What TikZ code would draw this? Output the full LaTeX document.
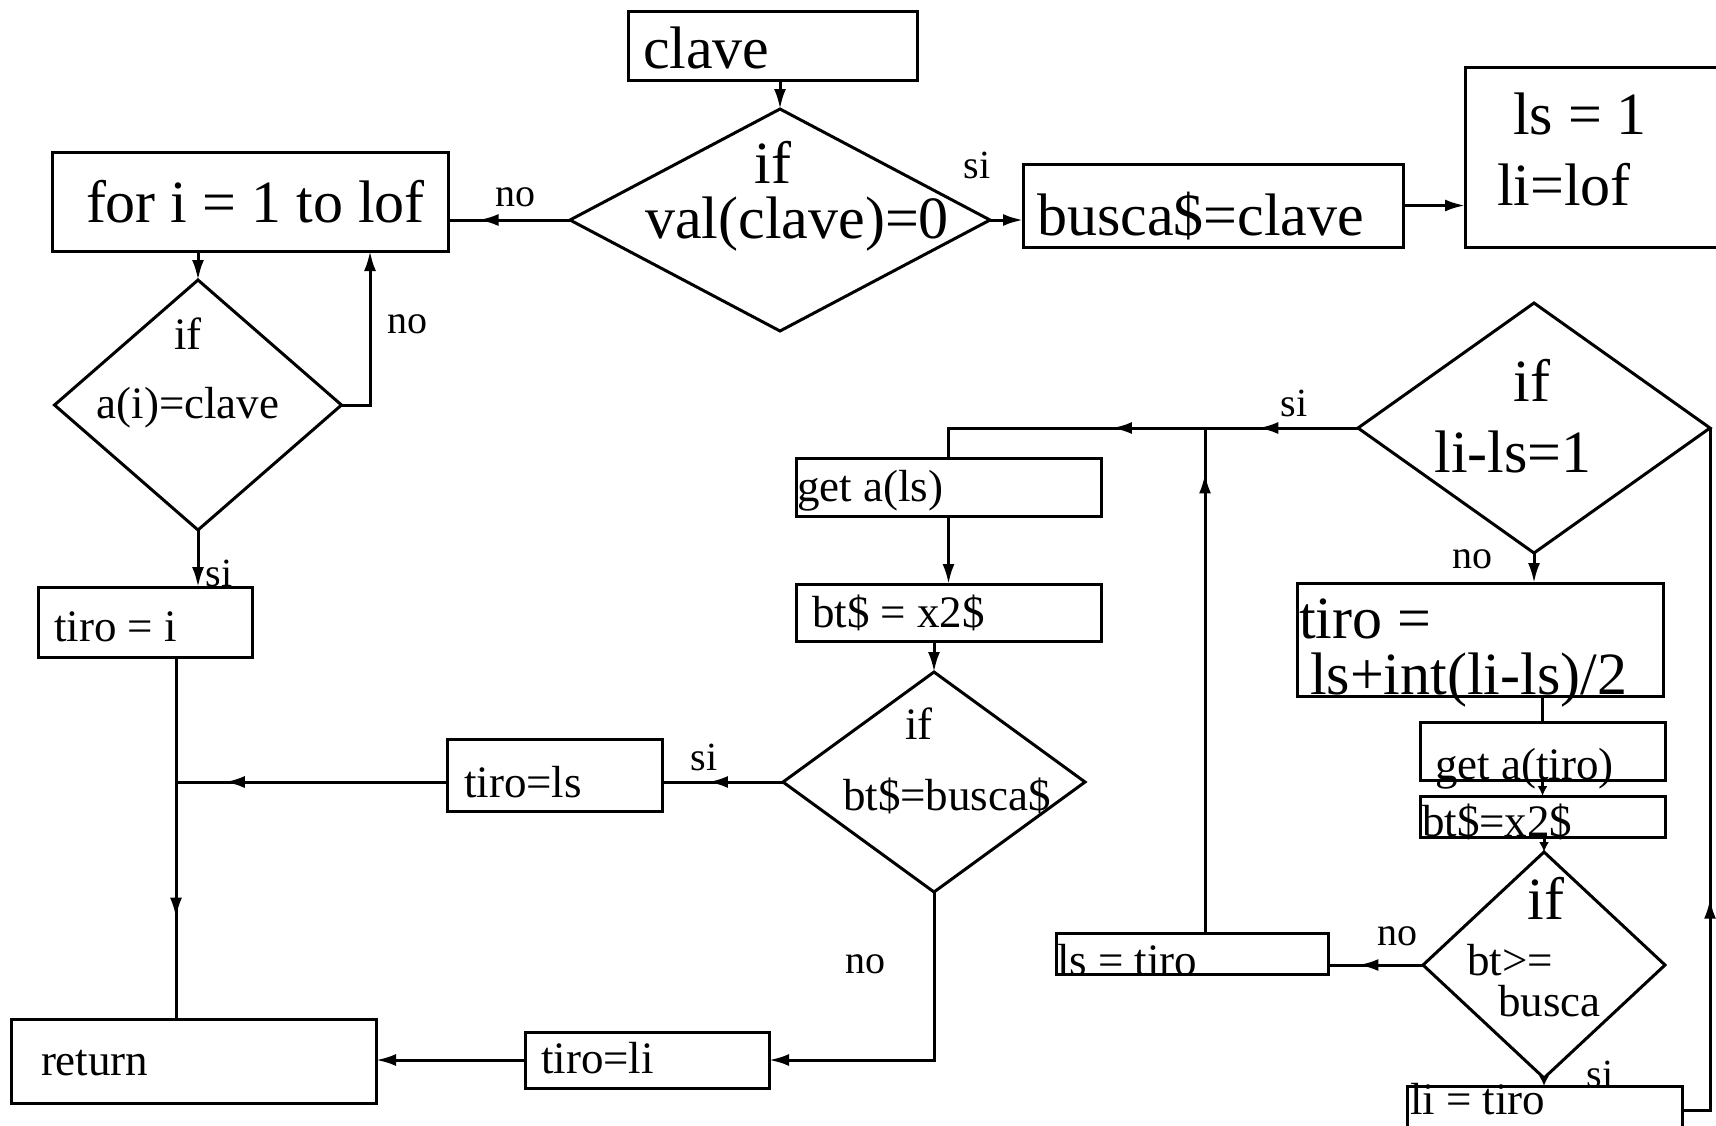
\documentclass[tikz,border=0pt]{standalone}
\usepackage{fontspec}
\setmainfont{Liberation Serif}
\usetikzlibrary{shapes.geometric,arrows.meta,decorations.markings}
\newcommand\FLg{\fontsize{30}{36}\selectfont}
\newcommand\FMd{\fontsize{22.5}{27}\selectfont}
\newcommand\FSm{\fontsize{20}{24}\selectfont}
\tikzset{
  every node/.style={inner sep=0pt, outer sep=0pt},
  bx/.style 2 args={draw, rectangle, line width=1.5pt, minimum width=#1*0.5pt, minimum height=#2*0.5pt, anchor=north west},
  dm/.style 2 args={draw, diamond, line width=1.5pt, minimum width=#1*0.5pt, minimum height=#2*0.5pt},
  ln/.style={line width=1.5pt},
  arr/.style={ln, -{Latex[length=10pt,width=6pt]}},
  arrs/.style={ln, -{Latex[length=5pt,width=5pt]}},
  midarr/.style={ln, postaction={decorate}, decoration={markings, mark=at position #1 with {\arrow{Latex[length=10pt,width=6pt]}}}},
  twoarr/.style 2 args={ln, postaction={decorate}, decoration={markings, mark=at position #1 with {\arrow{Latex[length=10pt,width=6pt]}}, mark=at position #2 with {\arrow{Latex[length=10pt,width=6pt]}}}},
  tL/.style={anchor=base west, font=\FLg},
  tM/.style={anchor=base west, font=\FMd},
  cL/.style={anchor=base, font=\FLg},
  cM/.style={anchor=base, font=\FMd},
  lbl/.style={anchor=center, font=\FSm},
}
\begin{document}
\begin{tikzpicture}[x=0.5pt,y=-0.5pt]
\useasboundingbox (0,0) rectangle (1716,1125);
\clip (0,0) rectangle (1716,1125);
\fill[white] (0,0) rectangle (1716,1125);

% boxes
\node[bx={289}{69}] (clave) at (628,11) {};
\node[bx={396}{99}] (forb) at (52,152) {};
\node[bx={380}{83}] (busca) at (1023,164) {};
\node[bx={270}{180}] (lsli) at (1465,67) {};
\node[bx={214}{70}] (tiroi) at (38,587) {};
\node[bx={305}{58}] (ga1) at (796,458) {};
\node[bx={305}{57}] (bt1) at (796,584) {};
\node[bx={215}{72}] (tirols) at (447,739) {};
\node[bx={272}{41}] (lstiro) at (1056,933) {};
\node[bx={366}{113}] (tiroexp) at (1297,583) {};
\node[bx={245}{58}] (ga2) at (1420,722) {};
\node[bx={245}{41}] (bt2) at (1420,796) {};
\node[bx={365}{84}] (ret) at (11,1019) {};
\node[bx={244}{56}] (tiroli) at (525,1032) {};
\node[bx={275}{48}] (litiro) at (1407,1086) {};

% diamonds
\node[dm={420}{222}] (d1) at (780,220) {};
\node[dm={287}{250}] (d2) at (198,405) {};
\node[dm={302}{220}] (d3) at (934,782) {};
\node[dm={352}{250}] (d4) at (1534,428) {};
\node[dm={242}{226}] (d5) at (1544,965) {};

% helper coordinates
\coordinate (d2r) at (370,405);
\coordinate (vt) at (176,0);
\coordinate (lsup) at ([xshift=6.5pt]lstiro.north);

% connectors
\draw[arr] (d1.north |- clave.south) -- (d1.north);
\draw[midarr=0.75] (d1.west) -- (d1.west -| forb.east);
\draw[arr] (d1.east) -- (d1.east -| busca.west);
\draw[arr] (busca.east) -- (busca.east -| lsli.west);
\draw[arr] (d2.north |- forb.south) -- (d2.north);
\draw[arr] (d2.east) -- (d2r) -- (d2r |- forb.south);
\draw[arr] (d2.south) -- (d2.south |- tiroi.north);
\draw[midarr=0.72] (vt |- tiroi.south) -- (vt |- ret.north);
\draw[midarr=0.62] (d3.west) -- (d3.west -| tirols.east);
\draw[midarr=0.82] (d3.west -| tirols.west) -- (d3.west -| vt);
\draw[arr] (d3.south) |- (tiroli.east);
\draw[arr] (tiroli.west) -- (tiroli.west -| ret.east);
\draw[arr] (ga1.south) -- (ga1.south |- bt1.north);
\draw[arr] (d3.north |- bt1.south) -- (d3.north);
\draw[twoarr={0.227}{0.56}] (d4.west) -- (d4.west -| ga1.north) -- (ga1.north);
\draw[midarr=0.91] (lsup) -- (lsup |- d4.west);
\draw[midarr=0.68] (d5.west) -- (d5.west -| lstiro.east);
\draw[arrs] (d5.south) -- (d5.south |- litiro.north);
\draw[midarr=0.337] (litiro.east) -| (d4.east);
\draw[arr] (d4.south) -- (d4.south |- tiroexp.north);
\draw[ln] (ga2.north |- tiroexp.south) -- (ga2.north);
\draw[arrs] (ga2.south) -- (ga2.south |- bt2.north);
\draw[arrs] (d5.north |- bt2.south) -- (d5.north);

% texts
\node[tL] (tclave) at (643,68) {clave};
\node[tL] (tfor) at (86,222) {for i = 1 to lof};
\node[cL] (td1a) at (773,183) {if};
\node[cL] (td1b) at (797,238) {val(clave)=0};
\node[tL] (tbusca) at (1037,235) {busca\$=clave};
\node[tL] (tls1) at (1513,134) {ls = 1};
\node[tL] (tlilof) at (1497,205) {li=lof};
\node[cM] (td2a) at (188,349) {if};
\node[cM] (td2b) at (188,418) {a(i)=clave};
\node[tM] (ttiroi) at (54,641) {tiro = i};
\node[tM] (tga1) at (797,501) {get a(ls)};
\node[tM] (tbt1) at (812,627) {bt\$ = x2\$};
\node[cM] (td3a) at (919,739) {if};
\node[cM] (td3b) at (947,810) {bt\$=busca\$};
\node[tM] (ttirols) at (464,797) {tiro=ls};
\node[tM] (tret) at (41,1075) {return};
\node[tM] (ttiroli) at (541,1073) {tiro=li};
\node[tM] (tlstiro) at (1057,975) {ls = tiro};
\node[cL] (td4a) at (1532,401) {if};
\node[cL] (td4b) at (1513,472) {li-ls=1};
\node[tL] (tte1) at (1299,638) {tiro =};
\node[tL] (tte2) at (1310,694) {ls+int(li-ls)/2};
\node[tM] (tga2) at (1435,779) {get a(tiro)};
\node[tM] (tbt2) at (1422,836) {bt\$=x2\$};
\node[cL] (td5a) at (1546,919) {if};
\node[tM] (td5b) at (1467,975) {bt>=};
\node[tM] (td5c) at (1498,1016) {busca};
\node[tM] (tlitiro) at (1410,1114) {li = tiro};

% branch labels
\node[lbl] (l1) at (515,197) {no};
\node[lbl] (l2) at (407,324) {no};
\node[lbl] (l3) at (219,573) {si};
\node[lbl] (l4) at (977,165) {si};
\node[lbl] (l5) at (1294,403) {si};
\node[lbl] (l6) at (1472,559) {no};
\node[lbl] (l7) at (704,757) {si};
\node[lbl] (l8) at (865,964) {no};
\node[lbl] (l9) at (1397,936) {no};
\node[lbl] (l10) at (1600,1074) {si};
\end{tikzpicture}
\end{document}
